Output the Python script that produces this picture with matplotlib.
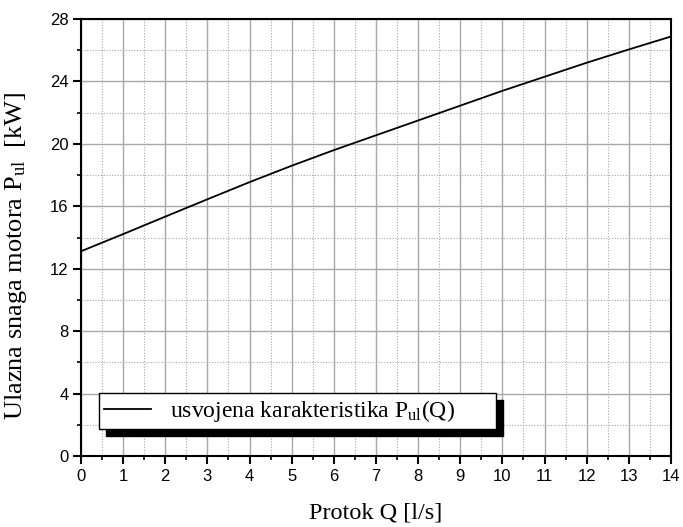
import numpy as np
import matplotlib.pyplot as plt
from matplotlib.patches import Rectangle
from matplotlib.ticker import MultipleLocator

# flow Q [l/s] and input power P_ul [kW]
Q = [0, 1, 2, 3, 4, 5, 6, 7, 8, 9, 10, 11, 12, 13, 14]
P_ul = [13.12, 14.22, 15.34, 16.45, 17.55, 18.6, 19.6, 20.55, 21.5, 22.45,
        23.4, 24.3, 25.2, 26.05, 26.88]
x_ticks = list(range(0, 15))
y_ticks = [0, 4, 8, 12, 16, 20, 24, 28]

plt.rcParams['font.family'] = 'Liberation Sans'
plt.rcParams['mathtext.fontset'] = 'custom'
plt.rcParams['mathtext.rm'] = 'Liberation Serif'
serif = {'family': 'Liberation Serif', 'size': 17}

fig = plt.figure(figsize=(6.83, 5.27), dpi=100)
ax = fig.add_axes([0.1186, 0.1347, 0.8638, 0.8292])

ax.plot(Q, P_ul, color='black', lw=1.3,
        label='usvojena karakteristika $\\mathregular{P_{ul}}$(Q)       ')

ax.set_xlim(0, 14)
ax.set_ylim(0, 28)
ax.set_xticks(x_ticks)
ax.set_yticks(y_ticks)
ax.xaxis.set_minor_locator(MultipleLocator(0.5))
ax.yaxis.set_minor_locator(MultipleLocator(2))

ax.grid(which='major', color='#a8a8a8', lw=1.0, ls='-')
ax.grid(which='minor', color='#a8a8a8', lw=0.8, ls=(0, (1, 1.5)))
ax.set_axisbelow(True)

for s in ax.spines.values():
    s.set_linewidth(1.5)
ax.tick_params(which='major', direction='out', length=6, width=1.5,
               labelsize=12, pad=3)
ax.tick_params(which='minor', direction='out', length=3, width=1.2)

ax.set_xlabel('Protok Q [l/s]', family='Liberation Serif', size=17.5)
ax.set_ylabel('Ulazna snaga motora $\\mathregular{P_{ul}}$  [kW]',
              family='Liberation Serif', size=19)
ax.xaxis.set_label_coords(0.5, -0.106)
ax.yaxis.set_label_coords(-0.088, 0.458)

leg = ax.legend(loc='lower left', bbox_to_anchor=(0.031, 0.062), prop=serif,
                fancybox=False, framealpha=1, edgecolor='black',
                handlelength=2.0, borderpad=0.2, borderaxespad=0)
leg.get_frame().set_linewidth(1.0)
leg.set_zorder(5)

# black offset shadow behind the legend box
fig.canvas.draw()
bb = leg.get_window_extent().transformed(ax.transAxes.inverted())
dx = 7 / (ax.bbox.width)
dy = 7 / (ax.bbox.height)
ax.add_patch(Rectangle((bb.x0 + dx, bb.y0 - dy), bb.width, bb.height,
                       transform=ax.transAxes, color='black', zorder=4))

fig.savefig('out.png', dpi=100)
